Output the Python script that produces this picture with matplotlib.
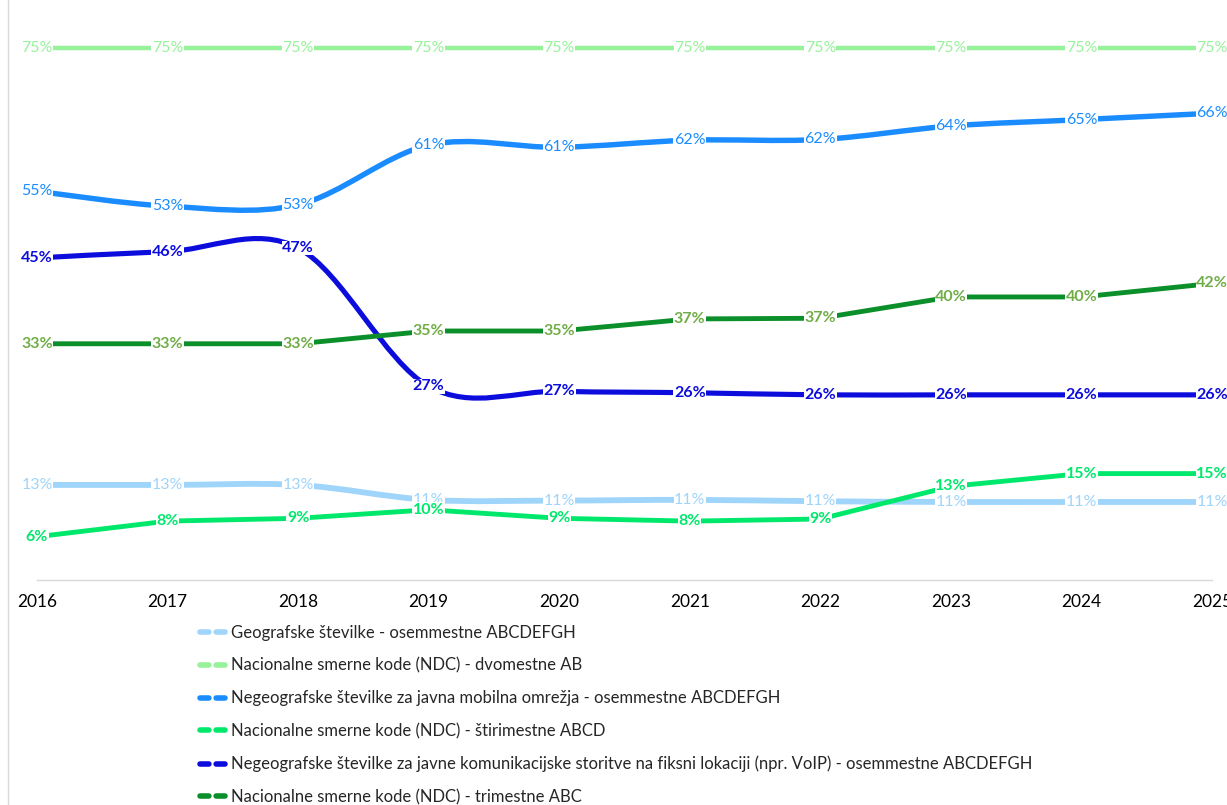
import numpy as np
import matplotlib
matplotlib.use("Agg")
import matplotlib.pyplot as plt
from matplotlib.path import Path
from matplotlib.patches import PathPatch
from matplotlib.lines import Line2D

plt.rcParams["font.family"] = ["Lato", "DejaVu Sans"]

years = [2016, 2017, 2018, 2019, 2020, 2021, 2022, 2023, 2024, 2025]

geo_8 = [13.4, 13.4, 13.4, 11.3, 11.2, 11.3, 11.1, 11.0, 11.0, 11.0]
ndc_2 = [75, 75, 75, 75, 75, 75, 75, 75, 75, 75]
mobile_8 = [54.8, 52.7, 52.9, 61.3, 61.0, 62.0, 62.1, 64.0, 64.9, 65.8]
ndc_4 = [6.1, 8.3, 8.7, 9.9, 8.7, 8.3, 8.6, 13.2, 15.0, 15.0]
voip_8 = [45.4, 46.3, 46.8, 27.3, 26.6, 26.4, 26.1, 26.1, 26.1, 26.1]
ndc_3 = [33.3, 33.3, 33.3, 35.1, 35.1, 36.8, 36.9, 39.9, 39.9, 41.8]

names = [
    "Geografske številke - osemmestne ABCDEFGH",
    "Nacionalne smerne kode (NDC) - dvomestne AB",
    "Negeografske številke za javna mobilna omrežja - osemmestne ABCDEFGH",
    "Nacionalne smerne kode (NDC) - štirimestne ABCD",
    "Negeografske številke za javne komunikacijske storitve na fiksni lokaciji (npr. VoIP) - osemmestne ABCDEFGH",
    "Nacionalne smerne kode (NDC) - trimestne ABC",
]

# (values, line colour, label colour, bold label, smoothed, linewidth)
series = [
    (geo_8, "#9fd4fb", "#9fd4fb", False, True, 4.2),
    (ndc_2, "#98f29c", "#98f29c", False, False, 3.2),
    (mobile_8, "#1a8cff", "#1a8cff", False, True, 3.9),
    (ndc_4, "#00e86b", "#00e86b", True, False, 3.5),
    (voip_8, "#0c0cdc", "#0c0cdc", True, True, 3.7),
    (ndc_3, "#0a8f2a", "#70ad47", True, False, 3.5),
]


def smooth_path(xs, ys):
    # Catmull-Rom style bezier through the points (like Excel's smoothed line)
    pts = np.column_stack([xs, ys]).astype(float)
    verts = [pts[0]]
    codes = [Path.MOVETO]
    n = len(pts)
    for i in range(n - 1):
        p0 = pts[max(i - 1, 0)]
        p1, p2 = pts[i], pts[i + 1]
        p3 = pts[min(i + 2, n - 1)]
        verts += [p1 + (p2 - p0) / 6, p2 - (p3 - p1) / 6, p2]
        codes += [Path.CURVE4] * 3
    return Path(verts, codes)


fig = plt.figure(figsize=(12.27, 8.05), dpi=100)
W, H = 1227, 805
ax = fig.add_axes([37 / W, 1 - 580 / H, (1212 - 37) / W, (580 - 12.5) / H])

for vals, col, lcol, bold, smooth, lw in series:
    if smooth:
        ax.add_patch(PathPatch(smooth_path(years, vals), fill=False, edgecolor=col,
                               lw=lw, capstyle="butt", joinstyle="round", zorder=2))
    else:
        ax.plot(years, vals, color=col, lw=lw, solid_joinstyle="round", zorder=2)

for vals, col, lcol, bold, smooth, lw in series:
    for x, v in zip(years, vals):
        ax.text(x, v, f"{v:.0f}%", ha="center", va="center", fontsize=11.5,
                color=lcol, fontweight="bold" if bold else "normal",
                bbox=dict(fc="white", ec="none", pad=0.4), zorder=4)

ax.set_xlim(2016, 2025)
ax.set_ylim(0, 80)
ax.set_xticks(years)
ax.set_yticks([])
ax.tick_params(axis="x", length=0, pad=10, labelsize=12.5, colors="black")
for s in ["top", "right", "left"]:
    ax.spines[s].set_visible(False)
ax.spines["bottom"].set_color("#d9d9d9")
ax.spines["bottom"].set_linewidth(1.0)

# chart area left border
fig.add_artist(Line2D([8 / W, 8 / W], [0, 1], color="#d9d9d9", lw=1.0))

handles = [Line2D([], [], color=s[1], lw=4, dashes=(1.6, 1.3), solid_capstyle="round",
                  dash_capstyle="round") for s in series]
fig.legend(handles, names, loc="upper left", bbox_to_anchor=(200 / W, 1 - 625 / H),
           frameon=False, fontsize=12, labelcolor="#262626", handlelength=1.75,
           handletextpad=0.1, labelspacing=1.0, borderaxespad=0, borderpad=0)

fig.savefig("out.png", dpi=100)
